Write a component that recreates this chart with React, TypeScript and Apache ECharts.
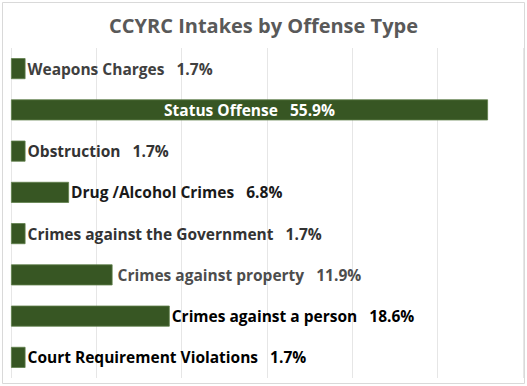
import React, { useEffect, useRef } from "react";
import * as echarts from "echarts";

const categories = [
  "Weapons Charges",
  "Status Offense",
  "Obstruction",
  "Drug /Alcohol Crimes",
  "Crimes against the Government",
  "Crimes against property",
  "Crimes against a person",
  "Court Requirement Violations",
];
const values = [1.7, 55.9, 1.7, 6.8, 1.7, 11.9, 18.6, 1.7];
const labelColors = ["#404040", "#ffffff", "#333333", "#1a1a1a", "#333333", "#4d4d4d", "#000000", "#000000"];
const title = "CCYRC Intakes by Offense Type";

export default function App() {
  const ref = useRef<HTMLDivElement>(null);
  useEffect(() => {
    const chart = echarts.init(ref.current!, null, { renderer: "svg" });
    const font = "'Open Sans', sans-serif";
    chart.setOption({
      animation: false,
      backgroundColor: "#ffffff",
      title: {
        text: title,
        left: "center",
        top: 10,
        textStyle: { fontFamily: font, fontSize: 20, fontWeight: "bold", color: "#595959" },
      },
      graphic: [
        {
          type: "rect",
          shape: { x: 2.5, y: 2.5, width: 522, height: 381 },
          style: { fill: "none", stroke: "#d9d9d9", lineWidth: 1 },
          silent: true,
        },
      ],
      grid: { left: 11, right: 4, top: 48, bottom: 8 },
      xAxis: {
        type: "value",
        min: 0,
        max: 60,
        interval: 10,
        axisLabel: { show: false },
        axisLine: { show: false },
        axisTick: { show: false },
        splitLine: { show: true, lineStyle: { color: "#e6e6e6", width: 1 } },
      },
      yAxis: {
        type: "category",
        data: categories,
        inverse: true,
        axisLabel: { show: false },
        axisLine: { show: false },
        axisTick: { show: false },
      },
      series: [
        {
          type: "bar",
          barWidth: 21,
          data: values.map((v, i) => ({
            value: v,
            label:
              i === 1
                ? { position: "inside", color: "#ffffff" }
                : { position: "right", color: labelColors[i], distance: i === 5 ? 5 : 2 },
          })),
          itemStyle: { color: "#375623", borderColor: "#5f7f4a", borderWidth: 0.8 },
          label: {
            show: true,
            distance: 2,
            fontFamily: font,
            fontSize: 15.5,
            fontWeight: "bold",
            formatter: (p: any) => `${p.name}   ${p.value}%`,
          },
        },
      ],
    });
    return () => chart.dispose();
  }, []);
  return (
    <div
      ref={ref}
      style={{ position: "absolute", left: 0, top: 0, width: 527, height: 386 }}
    />
  );
}
